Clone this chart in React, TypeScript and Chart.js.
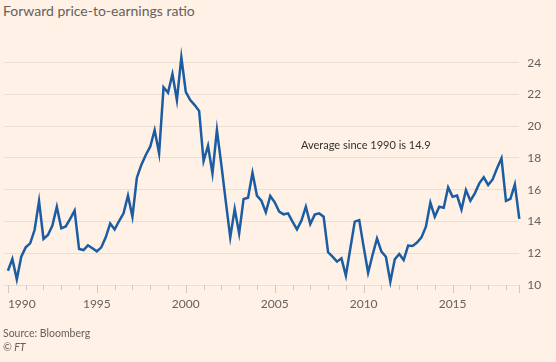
import React, { useEffect, useRef } from "react";
import { Chart, registerables } from "chart.js";

Chart.register(...registerables);

// Quarterly forward P/E, 1990 Q1 – 2018 Q4
const startYear = 1990;
const periodsPerYear = 4;
const peValues = [
  10.9, 11.64, 10.36, 11.78, 12.37, 12.62, 13.46, 15.29,
  12.9, 13.15, 13.74, 14.93, 13.57, 13.69, 14.16, 14.68,
  12.27, 12.2, 12.5, 12.31, 12.12, 12.37, 13.0, 13.88,
  13.5, 14.03, 14.51, 15.63, 14.3, 16.76, 17.56, 18.19,
  18.71, 19.76, 18.29, 22.45, 22.11, 23.29, 21.65, 24.34,
  22.17, 21.65, 21.33, 20.96, 17.81, 18.77, 17.03, 19.76,
  17.56, 15.25, 13.0, 14.79, 13.25, 15.42, 15.5, 17.07,
  15.63, 15.31, 14.58, 15.61, 15.21, 14.62, 14.45, 14.51,
  13.99, 13.5, 14.05, 14.93, 13.84, 14.43, 14.51, 14.3,
  12.06, 11.78, 11.47, 11.68, 10.59, 12.3, 13.99, 14.09,
  12.4, 10.78, 11.89, 12.92, 12.1, 11.78, 10.21, 11.62,
  11.95, 11.57, 12.48, 12.46, 12.67, 13.0, 13.67, 15.18,
  14.3, 14.93, 14.87, 16.15, 15.56, 15.63, 14.76, 15.98,
  15.31, 15.77, 16.4, 16.78, 16.3, 16.65, 17.35, 17.98,
  15.29, 15.42, 16.34, 14.16,
];
const xTickYears = [1990, 1995, 2000, 2005, 2010, 2015];
const xTickLabels = ["1990", "1995", "2000", "2005", "2010", "2015"];
const yTickValues = [10, 12, 14, 16, 18, 20, 22, 24];
const titleText = "Forward price-to-earnings ratio";
const annotationText = "Average since 1990 is 14.9";
const sourceText = "Source: Bloomberg";
const creditText = "© FT";

const BG = "#fff1e5";
const GRID = "#ebdfd4";
const TICK = "#d4c8bd";
const LABEL = "#66605c";
const LINE = "#1b5ca2";
const FONT = "Lato, 'Noto Sans', sans-serif";

const xAxisPlugin = {
  id: "ftXAxis",
  afterDraw(chart: any) {
    const xs = chart.scales.x;
    const ctx = chart.ctx;
    const bottom = chart.chartArea.bottom;
    ctx.save();
    ctx.strokeStyle = TICK;
    ctx.lineWidth = 1;
    const first = Math.ceil(xs.min);
    const last = Math.floor(xs.max);
    for (let yr = first; yr <= last; yr++) {
      const px = Math.round(xs.getPixelForValue(yr)) + 0.5;
      const len = yr % 5 === 0 ? 8 : 5;
      ctx.beginPath();
      ctx.moveTo(px, bottom);
      ctx.lineTo(px, bottom + len);
      ctx.stroke();
    }
    const endPx = Math.round(chart.chartArea.right) + 0.5;
    ctx.beginPath();
    ctx.moveTo(endPx, bottom);
    ctx.lineTo(endPx, bottom + 8);
    ctx.stroke();

    ctx.fillStyle = LABEL;
    ctx.font = `12px ${FONT}`;
    ctx.textBaseline = "middle";
    xTickYears.forEach((yr, i) => {
      const px = xs.getPixelForValue(yr);
      ctx.textAlign = i === 0 ? "left" : "center";
      ctx.fillText(xTickLabels[i], px, bottom + 19);
    });
    ctx.restore();
  },
};

export default function App() {
  const canvasRef = useRef<HTMLCanvasElement | null>(null);

  useEffect(() => {
    const canvas = canvasRef.current;
    if (!canvas) return;
    const points = peValues.map((v, i) => ({ x: startYear + i / periodsPerYear, y: v }));
    const chart = new Chart(canvas, {
      type: "line",
      data: {
        datasets: [
          {
            data: points,
            borderColor: LINE,
            borderWidth: 2.5,
            pointRadius: 0,
            tension: 0,
            clip: false as any,
            borderJoinStyle: "miter",
          },
        ],
      },
      plugins: [xAxisPlugin],
      options: {
        responsive: false,
        animation: false,
        events: [],
        layout: { padding: { left: 4, top: 62.7, bottom: 77, right: 0 } },
        plugins: { legend: { display: false }, tooltip: { enabled: false }, title: { display: false } },
        scales: {
          x: {
            type: "linear",
            min: 1989.78,
            max: startYear + (peValues.length - 1) / periodsPerYear,
            ticks: { display: false },
            grid: { display: false, drawTicks: false },
            border: { display: false },
            afterFit: (s: any) => {
              s.height = 0;
            },
          },
          y: {
            position: "right",
            min: 10,
            max: 24,
            afterBuildTicks: (s: any) => {
              s.ticks = yTickValues.map((v) => ({ value: v }));
            },
            ticks: {
              padding: 8,
              color: LABEL,
              font: { family: FONT, size: 12 },
            },
            grid: { color: GRID, lineWidth: 1, drawTicks: false },
            border: { display: false },
            afterFit: (s: any) => {
              s.width = 36.7;
            },
          },
        },
      },
    });
    return () => chart.destroy();
  }, []);

  return (
    <div
      style={{
        position: "absolute",
        left: 0,
        top: 0,
        width: 556,
        height: 362,
        background: BG,
        fontFamily: FONT,
        overflow: "hidden",
      }}
    >
      <div style={{ position: "absolute", left: 3, top: 2, fontSize: 14, lineHeight: "18px", color: "#66605c" }}>
        {titleText}
      </div>
      <canvas ref={canvasRef} width={556} height={362} style={{ position: "absolute", left: 0, top: 0 }} />
      <div
        style={{ position: "absolute", left: 301, top: 136, fontSize: 11, lineHeight: "18px", color: "#33302e" }}
      >
        {annotationText}
      </div>
      <div style={{ position: "absolute", left: 3, top: 324, fontSize: 10.5, lineHeight: "18px", color: "#66605c" }}>
        {sourceText}
      </div>
      <div
        style={{
          position: "absolute",
          left: 3,
          top: 338,
          fontSize: 10.5,
          lineHeight: "18px",
          color: "#66605c",
          fontStyle: "italic",
        }}
      >
        {creditText}
      </div>
    </div>
  );
}
